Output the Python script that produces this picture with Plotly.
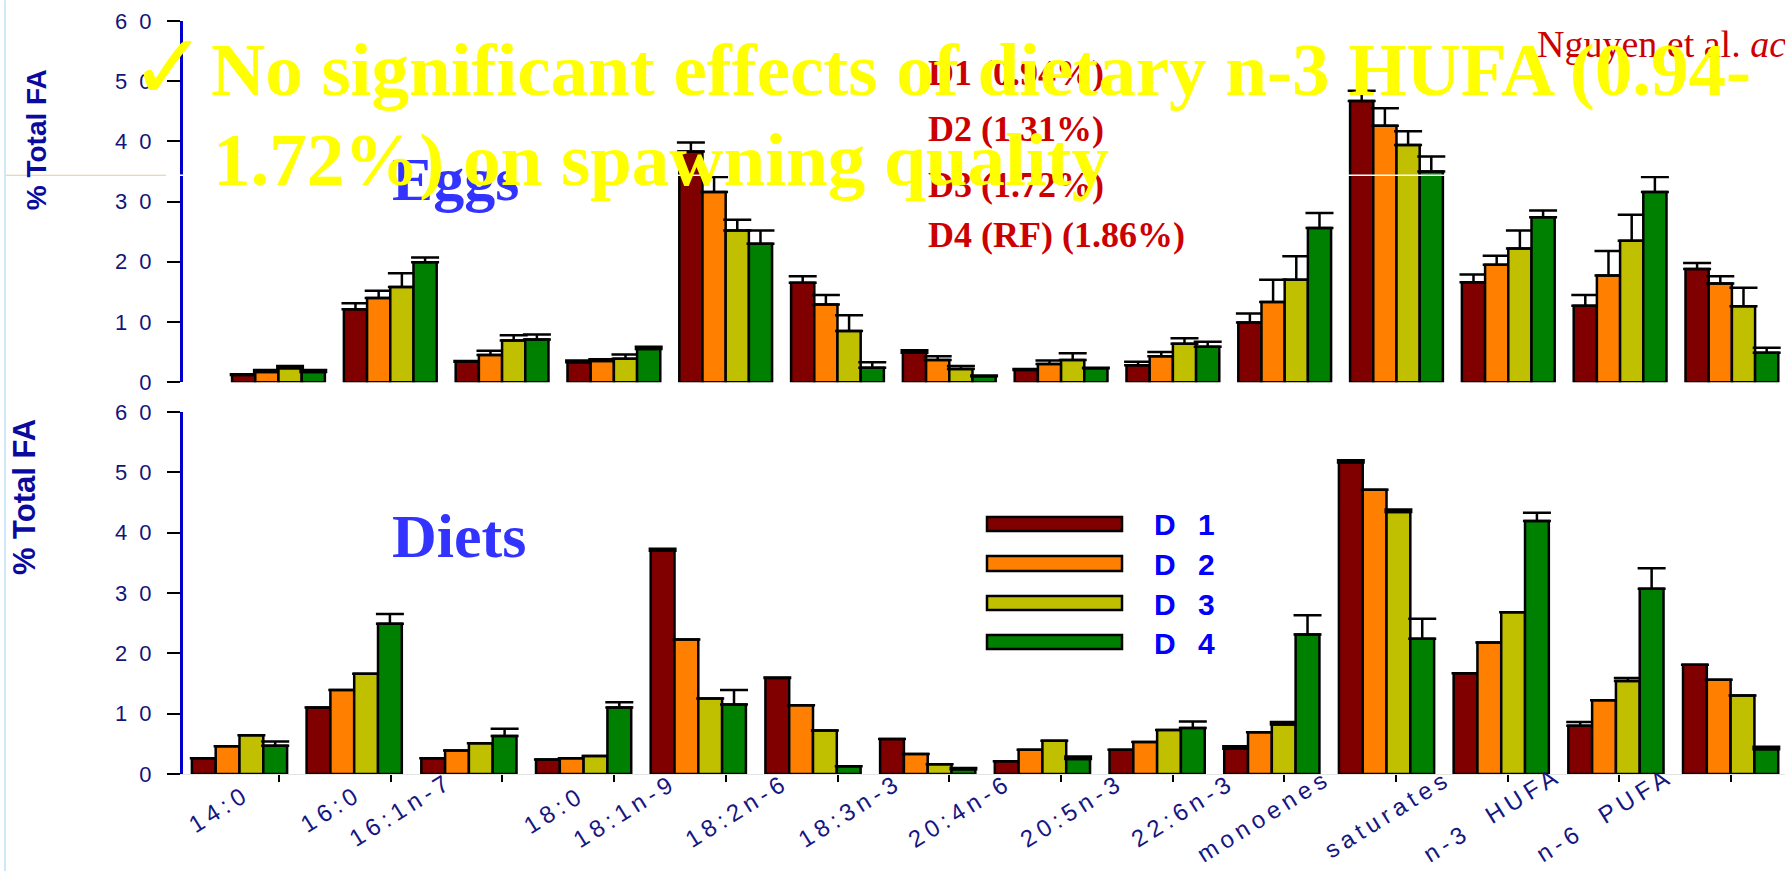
import plotly.graph_objects as go

# ---------------- data ----------------
categories = ["14:0", "16:0", "16:1n-7", "18:0", "18:1n-9", "18:2n-6", "18:3n-3",
              "20:4n-6", "20:5n-3", "22:6n-3", "monoenes", "saturates", "n-3 HUFA", "n-6 PUFA"]
series_names = ["D 1", "D 2", "D 3", "D 4"]
diet_labels = ["D1 (0.94%)", "D2 (1.31%)", "D3 (1.72%)", "D4 (RF) (1.86%)"]
y_ticks = [0, 10, 20, 30, 40, 50, 60]

eggs_d1 = [1.2, 12.1, 3.4, 3.3, 38.3, 16.5, 4.9, 2.0, 2.8, 9.9, 46.7, 16.6, 12.7, 18.8]
eggs_d2 = [1.7, 14.0, 4.5, 3.5, 31.6, 12.9, 3.7, 3.0, 4.3, 13.3, 42.6, 19.5, 17.7, 16.4]
eggs_d3 = [2.3, 15.8, 6.9, 3.9, 25.2, 8.5, 2.2, 3.7, 6.4, 17.0, 39.4, 22.2, 23.5, 12.6]
eggs_d4 = [1.7, 19.9, 7.1, 5.5, 23.0, 2.4, 1.0, 2.3, 5.9, 25.6, 35.0, 27.4, 31.6, 4.9]
eggs_e1 = [0.1, 1.0, 0.1, 0.3, 1.5, 1.1, 0.4, 0.2, 0.6, 1.5, 1.7, 1.3, 1.8, 1.0]
eggs_e2 = [0.3, 1.2, 0.7, 0.3, 2.5, 1.6, 0.6, 0.6, 0.7, 3.7, 2.9, 1.5, 4.1, 1.2]
eggs_e3 = [0.4, 2.3, 0.9, 0.7, 1.8, 2.6, 0.5, 1.1, 0.9, 3.9, 2.3, 3.0, 4.3, 3.1]
eggs_e4 = [0.3, 0.8, 0.8, 0.4, 2.2, 0.9, 0.1, 0.1, 0.8, 2.5, 2.5, 1.1, 2.5, 0.8]

diet_d1 = [2.6, 11.0, 2.6, 2.4, 37.0, 15.9, 5.8, 2.1, 4.0, 4.2, 51.6, 16.7, 8.0, 18.1]
diet_d2 = [4.6, 13.9, 3.9, 2.6, 22.3, 11.4, 3.3, 4.0, 5.3, 6.9, 47.1, 21.8, 12.2, 15.6]
diet_d3 = [6.4, 16.6, 5.1, 3.0, 12.5, 7.2, 1.6, 5.5, 7.3, 8.2, 43.4, 26.8, 15.4, 13.0]
diet_d4 = [4.7, 24.9, 6.3, 11.0, 11.5, 1.3, 0.8, 2.5, 7.6, 23.1, 22.4, 41.9, 30.7, 4.1]
diet_e1 = [0.0, 0.0, 0.0, 0.0, 0.3, 0.1, 0.0, 0.0, 0.0, 0.4, 0.4, 0.0, 0.6, 0.0]
diet_e2 = [0.0, 0.0, 0.0, 0.0, 0.0, 0.0, 0.0, 0.0, 0.0, 0.0, 0.0, 0.0, 0.0, 0.0]
diet_e3 = [0.0, 0.0, 0.0, 0.0, 0.0, 0.0, 0.0, 0.0, 0.0, 0.4, 0.4, 0.0, 0.5, 0.0]
diet_e4 = [0.7, 1.6, 1.2, 0.9, 2.4, 0.0, 0.2, 0.4, 1.1, 3.2, 3.3, 1.4, 3.4, 0.4]

# ---------------- style / layout helpers ----------------
colors = ["#800000", "#FF8000", "#C0C000", "#008000"]
W, H = 1785, 871
PL, PR, PT, PB = 183, 1785, 20.7, 774.0   # plot-area pixel box


def px2x(px):
    return (px - PL) / (PR - PL)


def py2y(py):
    return (PB - py) / (PB - PT)


fig = go.Figure()

eggs = [eggs_d1, eggs_d2, eggs_d3, eggs_d4]
eggs_err = [eggs_e1, eggs_e2, eggs_e3, eggs_e4]
diets = [diet_d1, diet_d2, diet_d3, diet_d4]
diets_err = [diet_e1, diet_e2, diet_e3, diet_e4]

for i in range(4):
    for vals, errs, xa, ya in ((eggs[i], eggs_err[i], "x", "y"), (diets[i], diets_err[i], "x2", "y2")):
        fig.add_trace(go.Bar(
            x=categories, y=vals, name=series_names[i], xaxis=xa, yaxis=ya,
            marker=dict(color=colors[i], line=dict(color="black", width=2.5)),
            error_y=dict(type="data", array=errs, arrayminus=[0] * len(errs), symmetric=False,
                         color="black", thickness=2.5, width=14),
            showlegend=False, hoverinfo="skip",
        ))

# empty helper trace so the overlay tick axis is drawn
fig.add_trace(go.Scatter(x=[], y=[], xaxis="x3", yaxis="y2", showlegend=False))

tick_font = dict(family="Liberation Sans, Arial", size=22, color="#14147A")
tick_text = ["<span style='letter-spacing:3px'>" + " ".join(str(v)) + "</span>" for v in y_ticks]

yaxis_common = dict(range=[0, 60], tickmode="array", tickvals=y_ticks, ticktext=tick_text,
                    ticks="outside", ticklen=13, tickwidth=2, tickcolor="black",
                    showline=True, linecolor="#0000CC", linewidth=3,
                    showgrid=False, zeroline=False, tickfont=tick_font,
                    ticklabelstandoff=8, fixedrange=True)

top_bottom = py2y(382.0)
bot_top = py2y(411.7)

fig.update_layout(
    width=W, height=H,
    margin=dict(l=PL, r=W - PR, t=PT, b=H - PB, pad=0),
    paper_bgcolor="white", plot_bgcolor="white",
    barmode="group", bargap=0.17, bargroupgap=0,
    xaxis=dict(domain=[0, 1], anchor="y", type="category", range=[-0.854, 13.475],
               showticklabels=False, ticks="", showline=False, showgrid=False, zeroline=False),
    yaxis=dict(domain=[top_bottom, 1], anchor="x", **yaxis_common),
    xaxis2=dict(domain=[0, 1], anchor="y2", type="category", range=[-0.4926, 13.474],
                showticklabels=False, ticks="", showline=True, linecolor="#E4E4E4", linewidth=1,
                showgrid=False, zeroline=False),
    yaxis2=dict(domain=[0, bot_top], anchor="x2", **yaxis_common),
    xaxis3=dict(overlaying="x2", anchor="y2", side="bottom", range=[-0.8594, 13.482],
                tickmode="array", tickvals=list(range(len(categories))),
                ticks="outside", ticklen=7, tickwidth=2, tickcolor="black",
                showticklabels=False, showline=False, showgrid=False, zeroline=False),
)

ann = []
# y-axis titles
ann.append(dict(text="<b>% Total FA</b>", textangle=-90, x=px2x(36), y=py2y(140),
                font=dict(family="Liberation Sans, Arial", size=28, color="#0A0A9E")))
ann.append(dict(text="<b>% Total FA</b>", textangle=-90, x=px2x(24), y=py2y(497),
                font=dict(family="Liberation Sans, Arial", size=31, color="#0A0A9E")))
# panel names
ann.append(dict(text="<b>Eggs</b>", x=px2x(455), y=py2y(179),
                font=dict(family="Liberation Serif, Times New Roman", size=62, color="#3333FF")))
ann.append(dict(text="<b>Diets</b>", x=px2x(459), y=py2y(536),
                font=dict(family="Liberation Serif, Times New Roman", size=62, color="#3333FF")))
# red diet descriptions
for lab, yc in zip(diet_labels, [73, 128.5, 184.5, 234.5]):
    ann.append(dict(text="<b>" + lab + "</b>", x=px2x(926), y=py2y(yc), xanchor="left",
                    font=dict(family="Liberation Serif, Times New Roman", size=36, color="#CC0000")))
ann.append(dict(text="Nguyen et al. <i>ac</i>", x=px2x(1535), y=py2y(44), xanchor="left",
                font=dict(family="Liberation Serif, Times New Roman", size=38, color="#CC0000")))
# legend labels
for lab, yc in zip(series_names, [524, 564, 604, 643]):
    ann.append(dict(text="<b><span style='letter-spacing:7px'>" + lab + "</span></b>",
                    x=px2x(1152), y=py2y(yc), xanchor="left",
                    font=dict(family="Liberation Sans, Arial", size=30, color="#0000FF")))
# x category labels (bottom panel), positioned relative to the tick axis
label_shift = [-0.53, -0.53, -0.91, -0.53, -0.90, -0.90, -0.89, -0.90, -0.90, -0.91, -1.18, -1.07, -1.14, -1.13]
label_yc = [809, 809, 810, 810, 811, 811, 811, 811, 811, 811, 816, 814, 815, 815]
for k, lab in enumerate(categories):
    ann.append(dict(text="<span style='letter-spacing:5px'>" + lab.replace(" ", "\u00a0\u00a0") + "</span>",
                    xref="x3", x=k + label_shift[k], y=py2y(label_yc[k]), textangle=-32,
                    font=dict(family="Liberation Sans, Arial", size=24, color="#161680")))
# yellow headline (on top)
ann.append(dict(text="\u2713", x=px2x(168), y=py2y(67),
                font=dict(family="DejaVu Sans", size=92, color="#FFFF00")))
ann.append(dict(text="<b>No significant effects of dietary n-3 HUFA (0.94-</b>", x=px2x(209), y=py2y(69.5),
                xanchor="left", font=dict(family="Liberation Serif, Times New Roman", size=75, color="#FFFF00")))
ann.append(dict(text="<b>1.72%) on spawning quality</b>", x=px2x(211), y=py2y(159.5),
                xanchor="left", font=dict(family="Liberation Serif, Times New Roman", size=75, color="#FFFF00")))

for a in ann:
    a.setdefault("xref", "paper")
    a.setdefault("yref", "paper")
    a.setdefault("showarrow", False)
    a.setdefault("xanchor", "center")
    a.setdefault("yanchor", "middle")
fig.update_layout(annotations=ann)

shapes = []
# legend swatches
for c, (y0, y1) in zip(colors, [(517, 531), (556, 571), (596, 610), (635, 649)]):
    shapes.append(dict(type="rect", xref="paper", yref="paper", x0=px2x(987), x1=px2x(1122),
                       y0=py2y(y1), y1=py2y(y0), fillcolor=c, line=dict(color="black", width=2.5)))
# slide decorations
shapes.append(dict(type="line", xref="paper", yref="paper", x0=px2x(5), x1=px2x(5), y0=py2y(0), y1=py2y(871),
                   line=dict(color="#CDE9F7", width=2), layer="below"))
shapes.append(dict(type="line", xref="paper", yref="paper", x0=px2x(6), x1=px2x(166), y0=py2y(175), y1=py2y(175),
                   line=dict(color="#E2CB9F", width=1.2)))
shapes.append(dict(type="line", xref="paper", yref="paper", x0=px2x(166), x1=px2x(1785), y0=py2y(175), y1=py2y(175),
                   line=dict(color="white", width=1.5), layer="above"))
fig.update_layout(shapes=shapes)

fig.write_html("out.html", config={"displayModeBar": False},
               post_script="document.body.style.margin='0';document.body.style.overflow='hidden';")
